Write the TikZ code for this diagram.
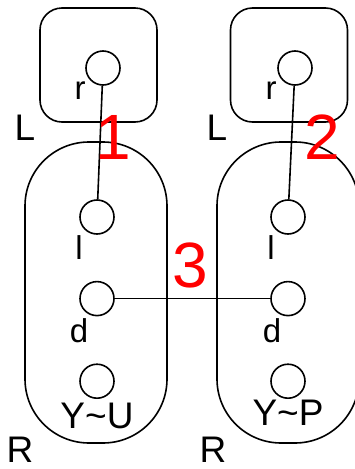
\documentclass[tikz,border=0pt]{standalone}
\usepackage{fontspec}
\setmainfont{Liberation Sans}
\usepackage{tikz}
\usetikzlibrary{positioning}
\tikzset{
  lhsbox/.style={
    draw,
    line width=1.6pt,
    rounded corners=22pt,
    minimum width=117pt,
    minimum height=114pt,
    inner sep=0pt
  },
  rhsbox/.style={
    draw,
    line width=1.6pt,
    rounded corners=64pt,
    minimum width=142pt,
    minimum height=301pt,
    inner sep=0pt
  },
  site/.style={draw, circle, line width=1.6pt, minimum size=34pt, inner sep=0pt},
  sitelabel/.style={font=\fontsize{33}{33}\selectfont, inner sep=0pt},
  boxlabel/.style={font=\fontsize{37}{37}\selectfont, inner sep=0pt},
  steplabel/.style={font=\fontsize{64}{64}\selectfont, text=red, inner sep=0pt},
  bond/.style={line width=1.6pt}
}

\begin{document}
\begin{tikzpicture}[x=1pt,y=-1pt]
  \useasboundingbox (0,0) rectangle (355,469);

  % left rule
  \node[lhsbox] (lhsA) at (98.5,65) {};
  \node[rhsbox] (rhsA) at (96,292.5) {};
  \node[site] (rA) at (103,68) {};
  \node[site] (lA) at (97,217) {};
  \node[site,below=46pt of lA] (dA) {};
  \node[site,below=47pt of dA] (yA) {};
  \node[sitelabel] at (80,91) {r};
  \node[sitelabel] at (79,248) {l};
  \node[sitelabel] at (79,331) {d};
  \node[boxlabel] at (97,416) {Y\textasciitilde U};
  \node[boxlabel] at (25,128) {L};
  \node[boxlabel] at (20,450) {R};

  % right rule
  \node[lhsbox] (lhsB) at (289,65) {};
  \node[rhsbox] (rhsB) at (288,292.5) {};
  \node[site] (rB) at (295,68) {};
  \node[site] (lB) at (288,217) {};
  \node[site,below=46pt of lB] (dB) {};
  \node[site,below=47pt of dB] (yB) {};
  \node[sitelabel] at (271,91) {r};
  \node[sitelabel] at (271,248) {l};
  \node[sitelabel] at (272,331) {d};
  \node[boxlabel] at (288,413) {Y\textasciitilde P};
  \node[boxlabel] at (217,128) {L};
  \node[boxlabel] at (213,450) {R};

  \draw[bond] (rA) -- (lA);
  \draw[bond] (rB) -- (lB);
  \draw[bond] (dA) -- (dB);

  \node[steplabel] at (113,137) {1};
  \node[steplabel] at (322,137) {2};
  \node[steplabel] at (190,265) {3};
\end{tikzpicture}
\end{document}
